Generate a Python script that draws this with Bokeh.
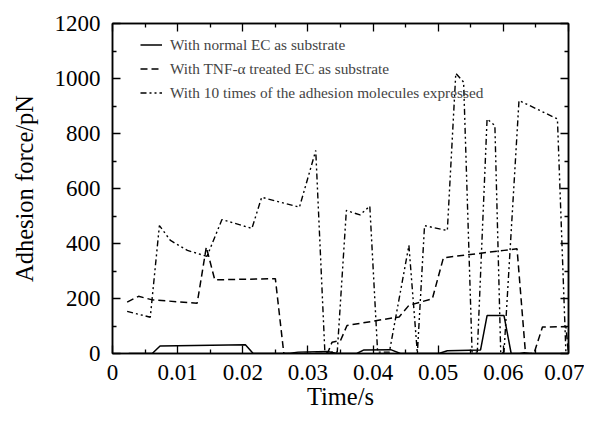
from bokeh.plotting import figure
from bokeh.models import LinearAxis, FixedTicker, Legend, LegendItem, Range1d
from bokeh.embed import file_html
from bokeh.resources import INLINE

# ---- data ----
normal_t = [0.0025, 0.0061, 0.0073, 0.0204, 0.0216, 0.0270, 0.0285, 0.0330, 0.0345, 0.0375,
            0.0386, 0.0427, 0.0442, 0.0501, 0.0514, 0.0565, 0.0575, 0.0601, 0.0612, 0.0625,
            0.0632, 0.0640, 0.0700]
normal_v = [0, 0, 27, 32, 0, 0, 5, 7, 0, 0,
            13, 14, 0, 0, 10, 13, 138, 138, 0, 0,
            3, 0, 0]

tnf_t = [0.00225, 0.0040, 0.0061, 0.0130, 0.0144, 0.0157, 0.0250, 0.0263, 0.0330, 0.0337,
         0.0350, 0.0360, 0.0440, 0.0455, 0.0491, 0.0508, 0.0601, 0.0621, 0.0634, 0.0647,
         0.0660, 0.0696, 0.0700]
tnf_v = [187, 208, 195, 183, 387, 268, 272, 0, 0, 41,
         47, 102, 133, 175, 199, 348, 375, 381, 0, 0,
         96, 98, 0]

tenx_t = [0.00225, 0.0058, 0.0072, 0.0089, 0.0115, 0.0145, 0.0168, 0.0214, 0.0229, 0.0287,
          0.0312, 0.0326, 0.0345, 0.0359, 0.0380, 0.0395, 0.0407, 0.0425, 0.0455, 0.0468,
          0.0479, 0.0514, 0.0527, 0.0539, 0.0552, 0.0560, 0.0575, 0.0587, 0.0596, 0.0601,
          0.0624, 0.0683, 0.0696, 0.0700]
tenx_v = [153, 132, 465, 411, 375, 353, 487, 455, 568, 532,
          738, 5, 5, 520, 504, 536, 5, 5, 393, 0,
          465, 447, 1019, 987, 5, 5, 853, 829, 0, 5,
          920, 853, 5, 5]

series_names = ["With normal EC as substrate",
                "With TNF-\u03b1 treated EC as substrate",
                "With 10 times of the adhesion molecules expressed"]

x_ticks = [0, 0.01, 0.02, 0.03, 0.04, 0.05, 0.06, 0.07]
x_tick_labels = ["0", "0.01", "0.02", "0.03", "0.04", "0.05", "0.06", "0.07"]
x_minor = [0.005, 0.015, 0.025, 0.035, 0.045, 0.055, 0.065]
y_ticks = [0, 200, 400, 600, 800, 1000, 1200]
y_minor = [100, 300, 500, 700, 900, 1100]

FONT = "Times"

p = figure(width=584, height=423, output_backend="svg", toolbar_location=None,
           x_range=Range1d(0, 0.07), y_range=Range1d(0, 1200),
           min_border_left=112, min_border_right=16, min_border_top=23, min_border_bottom=70,
           x_axis_label="Time/s", y_axis_label="Adhesion force/pN")
p.grid.visible = False
p.outline_line_color = "black"
p.outline_line_width = 1.5
p.background_fill_color = "white"
p.border_fill_color = "white"

r1 = p.line(normal_t, normal_v, line_color="black", line_width=1.5)
r2 = p.line(tnf_t, tnf_v, line_color="black", line_width=1.5, line_dash="7 4")
r3 = p.line(tenx_t, tenx_v, line_color="black", line_width=1.4, line_dash="6 3 2 3 2 3")

def style_axis(ax, ticks, minor, labels=None, show_labels=True):
    ax.ticker = FixedTicker(ticks=ticks, minor_ticks=minor)
    ax.major_tick_in = 8
    ax.major_tick_out = 0
    ax.minor_tick_in = 4
    ax.minor_tick_out = 0
    ax.major_tick_line_width = 1.3
    ax.minor_tick_line_width = 1.3
    ax.axis_line_width = 1.5
    ax.axis_line_color = "black"
    ax.major_label_text_font = FONT
    ax.major_label_text_font_style = "normal"
    ax.major_label_text_font_size = "23px"
    ax.major_label_text_color = "black"
    ax.axis_label_text_font = FONT
    ax.axis_label_text_font_size = "24.5px"
    ax.axis_label_text_font_style = "normal"
    ax.axis_label_text_color = "black"
    if labels is not None:
        ax.major_label_overrides = {t: l for t, l in zip(ticks, labels)}
    if not show_labels:
        ax.major_label_overrides = {t: "" for t in ticks}
        ax.major_label_standoff = 0

xa = p.xaxis[0]
style_axis(xa, x_ticks, x_minor, x_tick_labels)
xa.major_label_standoff = 11
xa.axis_label_standoff = 0
ya = p.yaxis[0]
style_axis(ya, y_ticks, y_minor)
ya.major_label_standoff = 12
ya.axis_label_standoff = 14

top_ax = LinearAxis()
style_axis(top_ax, x_ticks, x_minor, show_labels=False)
right_ax = LinearAxis()
style_axis(right_ax, y_ticks, y_minor, show_labels=False)
p.add_layout(top_ax, "above")
p.add_layout(right_ax, "right")

legend = Legend(items=[LegendItem(label=series_names[0], renderers=[r1]),
                       LegendItem(label=series_names[1], renderers=[r2]),
                       LegendItem(label=series_names[2], renderers=[r3])],
                location=(28, 250), padding=0, spacing=3,
                label_text_font=FONT, label_text_font_style="normal",
                label_text_font_size="15.3px",
                label_height=21, glyph_height=21, glyph_width=22, label_standoff=8,
                border_line_alpha=0, background_fill_alpha=0)
p.add_layout(legend, "center")

open("out.html", "w").write(file_html(p, INLINE))
